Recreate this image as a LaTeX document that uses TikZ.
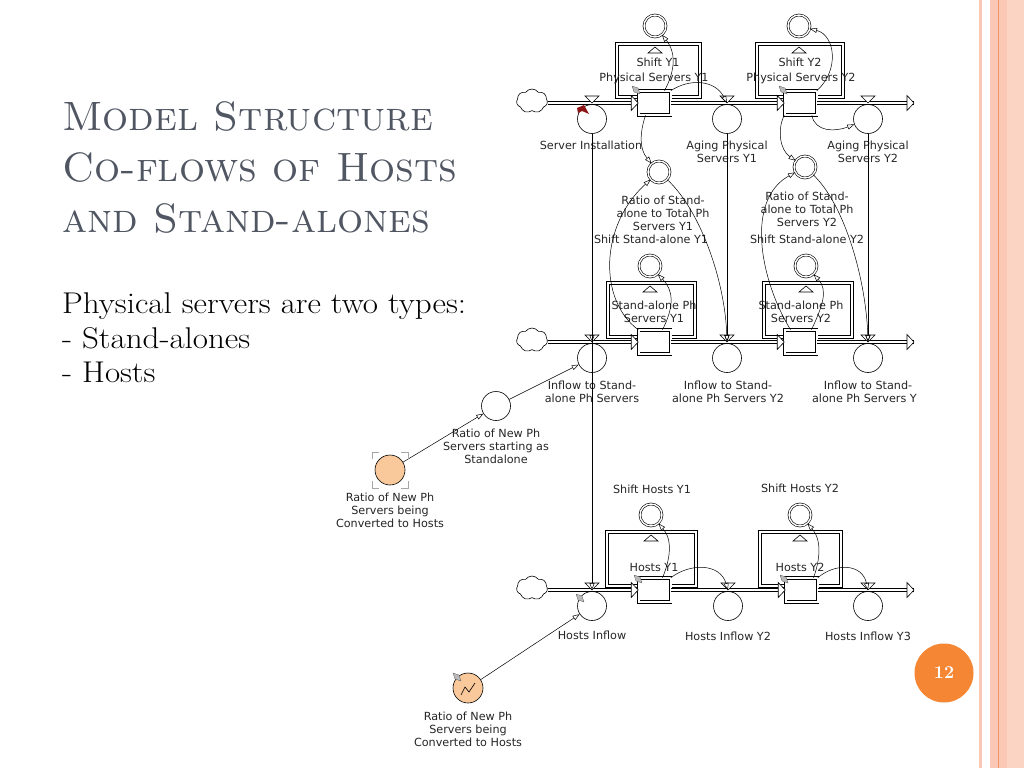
\documentclass[tikz,border=0pt]{standalone}
\usepackage{fontspec}
\newfontfamily\diafont{DejaVu Sans}
\usetikzlibrary{arrows.meta,shapes.symbols}

\definecolor{titlegray}{RGB}{80,86,98}
\definecolor{peach}{RGB}{249,200,155}
\definecolor{stripe}{RGB}{250,200,180}
\definecolor{stripelite}{RGB}{252,212,196}
\definecolor{stripedark}{RGB}{238,150,105}
\definecolor{pagenum}{RGB}{245,134,52}
\definecolor{markred}{RGB}{140,20,20}

\begin{document}
\begin{tikzpicture}[x=1pt, y=-1pt,
    lbl/.style={font=\diafont\fontsize{11.2}{13}\selectfont, align=center, text=black!85, inner sep=0pt},
    titletext/.style={font=\fontsize{41}{49}\selectfont\scshape, text=titlegray, inner sep=0pt, anchor=base west},
    bodytext/.style={font=\fontsize{30}{34}\selectfont, inner sep=0pt, anchor=base west},
    stock/.style={draw, double, double distance=2pt, line width=0.6pt, fill=white, minimum width=32pt, minimum height=24pt, inner sep=0pt},
    flowc/.style={circle, draw, line width=0.6pt, minimum size=29pt, inner sep=0pt},
    dconv/.style={circle, draw, double, double distance=1.4pt, line width=0.6pt, minimum size=22pt, inner sep=0pt},
    given/.style={circle, draw, line width=0.6pt, minimum size=30pt, inner sep=0pt, fill=peach},
    frame/.style={draw, double, double distance=2pt, line width=0.6pt},
    pipe/.style={draw, double, double distance=2.4pt, line width=0.6pt},
    link/.style={line width=0.5pt, -{Triangle[open, length=7pt, width=5pt]}},
    vtri/.style={draw, fill=white, line width=0.6pt},
    tag/.style={fill=gray!55, draw=black!70, line width=0.3pt},
    cloudy/.style={cloud, draw, cloud puffs=7, cloud puff arc=110, aspect=1.4, minimum width=31pt, minimum height=24pt, inner sep=0pt, line width=0.6pt},
    pgnum/.style={circle, fill=pagenum, minimum size=59pt, inner sep=0pt, text=white, font=\fontsize{18}{20}\selectfont\bfseries}
]

\fill[white] (0,0) rectangle (1024,768);
\useasboundingbox (0,0) rectangle (1024,768);

% slide border
\fill[stripe] (979,0) rectangle (982,768);
\fill[stripe] (990,0) rectangle (1024,768);
\fill[stripelite] (1007,0) rectangle (1024,768);
\fill[stripedark] (997.5,0) rectangle (999,768);

% title and text
\node[titletext] (t1) at (62,130) {Model Structure};
\node[titletext] (t2) at (62,181) {Co-flows of Hosts};
\node[titletext] (t3) at (62,232) {and Stand-alones};

\node[bodytext] (b1) at (62,313) {\scalebox{1.1}[1]{Physical servers are two types:}};
\node[bodytext] (b2) at (62,348) {\scalebox{1.1}[1]{- Stand-alones}};
\node[bodytext] (b3) at (62,382) {\scalebox{1.1}[1]{- Hosts}};

\node[pgnum] (pg) at (944,673) {12};

\begin{scope}
\clip (300,0) rectangle (916,768);

% conveyor frames
\draw[frame] (617,44) rectangle (700,97);
\draw[frame] (757,44) rectangle (843,97);
\draw[frame] (608,283) rectangle (695,337);
\draw[frame] (764,283) rectangle (852,337);
\draw[frame] (607,532) rectangle (696,586);
\draw[frame] (760,532) rectangle (841,586);

% valves on the pipes
\coordinate (vSI) at (592,103);
\coordinate (vAg1) at (727,103);
\coordinate (vAg2) at (868,103);
\coordinate (vSA1) at (592,342);
\coordinate (vSA2) at (727,342);
\coordinate (vSA3) at (868,342);
\coordinate (vH1) at (592,590);
\coordinate (vH2) at (728,590);
\coordinate (vH3) at (868,590);
\coordinate (pe1) at (914,103);
\coordinate (pe2) at (914,342);
\coordinate (pe3) at (914,590);

% clouds
\node[cloudy] (cl1) at (532,101) {};
\node[cloudy] (cl2) at (532,340) {};
\node[cloudy] (cl3) at (532,588) {};

% stocks
\node[stock] (ps1) at (654.5,103) {};
\node[stock] (ps2) at (800.5,103) {};
\node[stock] (sa1) at (654.5,342) {};
\node[stock] (sa2) at (800.5,342) {};
\node[stock] (h1) at (654.5,590) {};
\node[stock] (h2) at (801.5,590) {};

% pipes
\draw[pipe] (cl1.east |- vSI) -- (ps1.west);
\draw[pipe] (ps1.east) -- (ps2.west);
\draw[pipe] (ps2.east) -- (pe1);
\draw[pipe] (cl2.east |- vSA1) -- (sa1.west);
\draw[pipe] (sa1.east) -- (sa2.west);
\draw[pipe] (sa2.east) -- (pe2);
\draw[pipe] (cl3.east |- vH1) -- (h1.west);
\draw[pipe] (h1.east) -- (h2.west);
\draw[pipe] (h2.east) -- (pe3);

\foreach \v in {vSI,vAg1,vAg2,vSA1,vSA2,vSA3,vH1,vH2,vH3}
    \draw[vtri] (\v) ++(-7,-7) -- ++(14,0) -- ++(-7,7) -- cycle;
\foreach \s in {ps1.west,ps2.west,sa1.west,sa2.west,h1.west,h2.west,pe1,pe2,pe3}
    \draw[vtri] (\s) ++(-7,-7.5) -- ++(7,7.5) -- ++(-7,7.5) -- cycle;

% leak triangles on the frames
\foreach \x/\y in {655/44,799/44,650/283,806/283,651/532,800/532}
    \draw[vtri] (\x-7,\y+9) -- (\x+7,\y+9) -- (\x,\y+3) -- cycle;

% flow circles
\node[flowc] (fSI) at (592,119) {};
\node[flowc] (fAg1) at (727,119) {};
\node[flowc] (fAg2) at (868,119) {};
\node[flowc] (fSA1) at (592,358) {};
\node[flowc] (fSA2) at (727,358) {};
\node[flowc] (fSA3) at (868,358) {};
\node[flowc] (fH1) at (592,606) {};
\node[flowc] (fH2) at (728,606) {};
\node[flowc] (fH3) at (868,606) {};

% shift and ratio converters
\node[dconv] (sPS1) at (655,26) {};
\node[dconv] (sPS2) at (799,26) {};
\node[dconv] (sSA1) at (650,266) {};
\node[dconv] (sSA2) at (806,266) {};
\node[dconv] (sH1) at (651,515) {};
\node[dconv] (sH2) at (800,515) {};
\node[dconv] (r1) at (659,172) {};
\node[dconv] (r2) at (805,167) {};

\node[flowc] (rns) at (496,406) {};
\node[given] (o1) at (390,470) {};
\node[given] (o2) at (468,688) {};

% labels
\node[lbl] (lS1) at (658,62) {Shift Y1};
\node[lbl] (lP1) at (654,78) {Physical Servers Y1};
\node[lbl] (lS2) at (800,62) {Shift Y2};
\node[lbl] (lP2) at (801,78) {Physical Servers Y2};
\node[lbl] (lSI) at (591,145) {Server Installation};
\node[lbl] (lAg1) at (727,152) {Aging Physical\\Servers Y1};
\node[lbl] (lAg2) at (868,152) {Aging Physical\\Servers Y2};
\node[lbl] (lR1) at (663,213) {Ratio of Stand-\\alone to Total Ph\\Servers Y1};
\node[lbl] (lSS1) at (651,239) {Shift Stand-alone Y1};
\node[lbl] (lR2) at (807,209) {Ratio of Stand-\\alone to Total Ph\\Servers Y2};
\node[lbl] (lSS2) at (807,239) {Shift Stand-alone Y2};
\node[lbl] (lSA1) at (654,311.5) {Stand-alone Ph\\Servers Y1};
\node[lbl] (lSA2) at (801,311.5) {Stand-alone Ph\\Servers Y2};
\node[lbl] (lI1) at (592,391.5) {Inflow to Stand-\\alone Ph Servers};
\node[lbl] (lI2) at (728,391.5) {Inflow to Stand-\\alone Ph Servers Y2};
\node[lbl] (lI3) at (868,391.5) {Inflow to Stand-\\alone Ph Servers Y3};
\node[lbl] (lRN) at (496,446) {Ratio of New Ph\\Servers starting as\\Standalone};
\node[lbl] (lO1) at (390,510) {Ratio of New Ph\\Servers being\\Converted to Hosts};
\node[lbl] (lSH1) at (652,489) {Shift Hosts Y1};
\node[lbl] (lSH2) at (800,488) {Shift Hosts Y2};
\node[lbl] (lH1) at (654,567) {Hosts Y1};
\node[lbl] (lH2) at (800,567) {Hosts Y2};
\node[lbl] (lHI1) at (592,635) {Hosts Inflow};
\node[lbl] (lHI2) at (728,636) {Hosts Inflow Y2};
\node[lbl] (lHI3) at (868,636) {Hosts Inflow Y3};
\node[lbl] (lO2) at (468,729) {Ratio of New Ph\\Servers being\\Converted to Hosts};

% connectors
\draw[link] ([xshift=10pt]ps1.north) .. controls (673,75) and (678,55) .. (sPS1);
\draw[link] (ps1.north east) .. controls (690,78) and (715,80) .. (vAg1);
\draw[link] ([xshift=-9pt]ps1.south) .. controls (639,135) and (640,150) .. (r1);
\draw[link] (ps2.north east) .. controls (840,70) and (835,35) .. (sPS2);
\draw[link] (ps2.south west) .. controls (777,130) and (780,150) .. (r2);
\draw[link] ([xshift=-5pt]ps2.south east) .. controls (815,132) and (835,132) .. (fAg2);

\draw[link] (sa1.north west) .. controls (598,300) and (600,225) .. (r1);
\draw[link] (r1) .. controls (700,210) and (725,280) .. (vSA2);
\draw[link] ([xshift=-10pt]sa2.north) .. controls (760,280) and (745,200) .. (r2);
\draw[link] (r2) .. controls (845,205) and (866,280) .. (vSA3);
\draw[link] ([xshift=8pt]sa1.north) .. controls (675,305) and (673,290) .. (sSA1);
\draw[link] ([xshift=11pt]sa2.north) .. controls (823,305) and (828,290) .. (sSA2);

\draw[link] ([xshift=8pt]h1.north) .. controls (670,560) and (673,540) .. (sH1);
\draw[link] (h1.north east) .. controls (690,563) and (720,563) .. (vH2);
\draw[link] ([xshift=12pt]h2.north) .. controls (820,560) and (822,540) .. (sH2);
\draw[link] (h2.north east) .. controls (835,563) and (862,563) .. (vH3);

\draw[link] (fSI) -- (vSA1);
\draw[link] (fSI) -- (vH1);
\draw[link] (fAg1) -- (vSA2);
\draw[link] (fAg2) -- (vSA3);
\draw[link] (o1) -- (rns);
\draw[link] (rns) -- (fSA1);
\draw[link] (o2) -- (fH1);

% small marks
\fill[markred] (577,108) -- (584,105) -- (589,114) -- (582,111) -- (578,113) -- cycle;
\draw[tag] (632,86) -- (638,88) -- (640,94) -- (634,92) -- cycle;
\draw[tag] (779,86) -- (785,88) -- (787,94) -- (781,92) -- cycle;
\draw[tag] (634,575) -- (640,577) -- (642,583) -- (636,581) -- cycle;
\draw[tag] (780,575) -- (786,577) -- (788,583) -- (782,581) -- cycle;
\draw[tag] (576,594) -- (582,596) -- (584,602) -- (578,600) -- cycle;
\draw[tag] (453,673) -- (459,675) -- (461,681) -- (455,679) -- cycle;
\draw[line width=0.6pt] (461,695) -- (465,687) -- (469,692) -- (475,683);
\draw[gray!70, line width=0.8pt]
    (372,459) -- (372,452) -- (379,452)
    (401,452) -- (408,452) -- (408,459)
    (372,481) -- (372,488) -- (379,488)
    (401,488) -- (408,488) -- (408,481);
\end{scope}

\end{tikzpicture}
\end{document}
